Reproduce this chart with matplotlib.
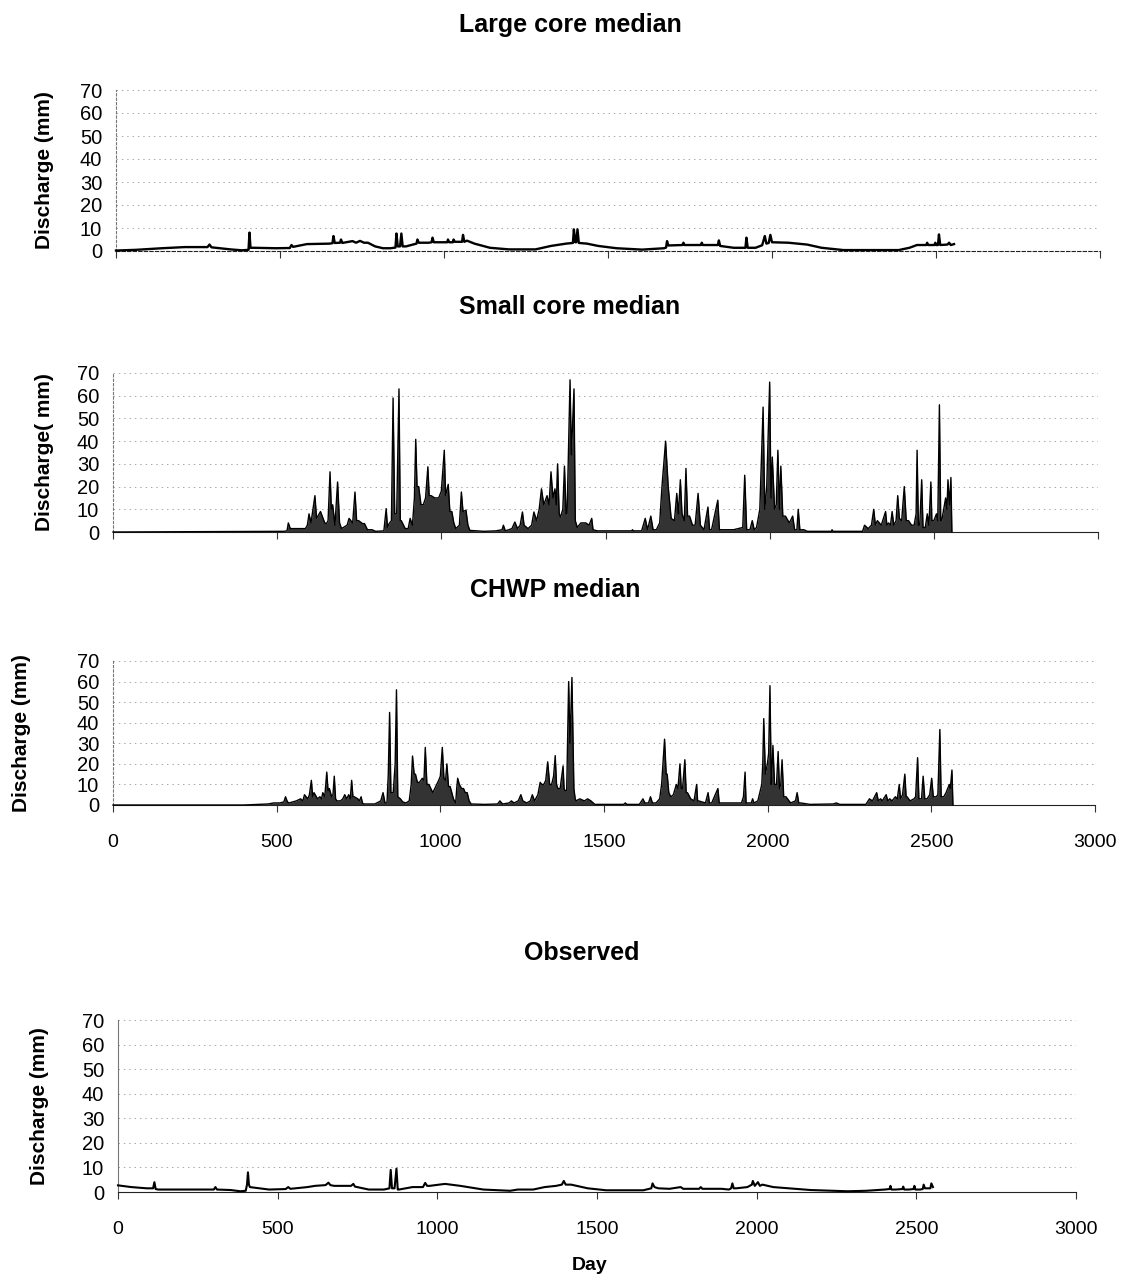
import matplotlib
matplotlib.use("Agg")
import matplotlib.pyplot as plt

plt.rcParams['font.family'] = ['Liberation Sans', 'DejaVu Sans']

W, H = 1127, 1280

titles = ["Large core median", "Small core median", "CHWP median", "Observed"]
ylabels = ["Discharge (mm)", "Discharge( mm)", "Discharge (mm)", "Discharge (mm)"]
y_ticks = [0, 10, 20, 30, 40, 50, 60, 70]
x_ticks = [0, 500, 1000, 1500, 2000, 2500, 3000]
x_label = "Day"

# ---- Large core median (day, discharge) ----
large_days = [0, 60, 140, 209, 279, 285, 291, 349, 384, 404,
              407, 410, 419, 488, 530, 535, 540, 582, 651, 660,
              663, 667, 683, 686, 690, 721, 732, 744, 756, 768,
              790, 814, 837, 852, 855, 859, 866, 870, 874, 884,
              916, 919, 923, 954, 962, 965, 969, 1010, 1012, 1016,
              1027, 1029, 1033, 1055, 1058, 1062, 1070, 1093, 1140, 1198,
              1279, 1326, 1372, 1393, 1396, 1400, 1403, 1407, 1411, 1436,
              1470, 1526, 1604, 1671, 1677, 1680, 1684, 1727, 1730, 1733,
              1783, 1786, 1789, 1835, 1838, 1842, 1883, 1919, 1922, 1926,
              1950, 1970, 1978, 1983, 1990, 1995, 2000, 2050, 2107, 2151,
              2218, 2386, 2419, 2442, 2470, 2473, 2476, 2495, 2498, 2501,
              2506, 2509, 2513, 2535, 2540, 2545, 2555]
large_q = [0.2, 0.5, 1.2, 1.7, 1.7, 2.8, 1.6, 0.7, 0.3, 0.5,
           8.0, 1.4, 1.4, 1.2, 1.3, 2.6, 1.8, 3.0, 3.2, 3.4,
           6.5, 3.5, 3.6, 5.0, 3.5, 4.3, 3.6, 4.4, 3.6, 3.6,
           2.0, 1.2, 1.2, 1.5, 7.6, 2.0, 2.0, 7.6, 2.0, 2.0,
           3.2, 5.0, 3.6, 3.6, 3.8, 5.8, 3.8, 3.8, 5.0, 3.8,
           3.8, 5.0, 4.0, 4.0, 7.0, 4.0, 4.5, 3.2, 1.4, 0.7,
           0.7, 2.2, 3.2, 3.5, 9.4, 3.8, 3.8, 9.4, 3.5, 3.2,
           2.2, 1.2, 0.6, 1.2, 1.5, 4.3, 2.4, 2.6, 3.6, 2.6,
           2.6, 3.6, 2.6, 2.6, 4.6, 2.2, 1.4, 1.4, 5.8, 1.4,
           1.4, 2.5, 6.5, 3.2, 3.5, 7.0, 3.8, 3.6, 2.8, 1.4,
           0.4, 0.4, 1.4, 2.6, 2.6, 3.6, 2.6, 2.6, 3.6, 2.6,
           2.6, 7.2, 2.6, 2.8, 3.6, 2.6, 3.0]

# ---- Small core median ----
small_days = [0, 300, 520, 530, 534, 540, 557, 586, 592, 597,
              603, 615, 620, 632, 645, 650, 655, 661, 665, 669,
              676, 684, 690, 696, 713, 719, 730, 737, 742, 748,
              760, 766, 775, 789, 800, 825, 832, 836, 841, 848,
              853, 858, 864, 871, 875, 878, 890, 899, 905, 912,
              918, 922, 926, 931, 938, 945, 952, 959, 963, 969,
              980, 992, 1000, 1009, 1013, 1021, 1026, 1032, 1038, 1044,
              1055, 1061, 1066, 1075, 1081, 1087, 1130, 1166, 1185, 1189,
              1195, 1215, 1224, 1232, 1240, 1247, 1252, 1264, 1275, 1282,
              1290, 1298, 1305, 1312, 1322, 1328, 1334, 1340, 1346, 1350,
              1354, 1359, 1363, 1370, 1375, 1380, 1383, 1392, 1396, 1404,
              1408, 1414, 1425, 1440, 1450, 1458, 1462, 1475, 1580, 1582,
              1585, 1610, 1621, 1628, 1638, 1645, 1655, 1665, 1672, 1683,
              1691, 1700, 1710, 1717, 1722, 1728, 1733, 1740, 1745, 1750,
              1756, 1765, 1773, 1782, 1789, 1800, 1812, 1817, 1823, 1842,
              1847, 1851, 1890, 1918, 1924, 1930, 1940, 1947, 1953, 1960,
              1970, 1980, 1985, 1991, 2000, 2004, 2008, 2015, 2020, 2025,
              2030, 2034, 2040, 2048, 2060, 2070, 2076, 2083, 2087, 2092,
              2104, 2115, 2188, 2190, 2193, 2283, 2289, 2300, 2310, 2317,
              2322, 2328, 2340, 2353, 2357, 2362, 2368, 2373, 2378, 2385,
              2390, 2395, 2402, 2410, 2416, 2423, 2432, 2440, 2446, 2449,
              2453, 2457, 2463, 2467, 2474, 2480, 2485, 2491, 2494, 2500,
              2508, 2512, 2517, 2521, 2524, 2530, 2536, 2540, 2543, 2548,
              2552, 2555]
small_q = [0, 0.2, 0.3, 0.5, 4, 1.5, 1.5, 1.5, 3, 8,
           4, 16, 6, 9, 4, 3.7, 5, 26.5, 10, 12,
           3, 22, 4, 1.5, 3, 6, 4, 17.6, 5, 5,
           3.7, 3.7, 1, 1, 0.3, 0.5, 10.3, 2, 3.7, 5,
           59, 8, 8, 63, 5, 5, 1.5, 1.5, 6, 3,
           15, 40.8, 20, 20, 12, 12, 15, 28.7, 16, 16,
           15, 15, 18, 36, 16, 21, 9, 9, 4, 1.5,
           3, 17.6, 9, 9.6, 3, 0.7, 0.3, 0.5, 1, 3,
           0.5, 1.5, 4.4, 1.5, 3, 8.8, 3, 1.5, 3, 8.8,
           5, 10, 19, 12, 16, 12, 26.5, 15, 19, 12,
           30, 8, 6.6, 10, 29, 8, 8, 67, 34, 63,
           5, 2, 4, 4, 3, 6, 1, 0.5, 0.5, 1,
           0.5, 0.5, 6, 1, 7, 1, 1, 4, 20, 40,
           20, 6, 5, 17, 8, 23, 8, 5, 28, 7,
           7, 3, 3, 17, 3, 1, 11, 1, 1, 14,
           1, 1, 1, 2, 25, 1, 1, 5, 1, 2,
           10, 55, 10, 20, 66, 15, 33, 10, 12, 36,
           10, 29, 7, 7, 4, 7, 1, 1, 10, 1,
           1, 0.3, 0.3, 1, 0.3, 0.3, 3, 1.5, 3, 10,
           3, 5, 3, 9, 3, 4, 3, 9, 3, 5,
           16, 6, 5, 20, 5, 5, 3, 3, 8, 36,
           3, 3, 23, 2, 2, 8, 3, 22, 5, 5,
           8, 5, 56, 5, 5, 10, 15, 10, 23, 12,
           24, 0]

# ---- CHWP median ----
chwp_days = [0, 400, 474, 491, 510, 522, 527, 533, 538, 560,
             573, 580, 585, 595, 600, 606, 610, 614, 625, 632,
             637, 641, 647, 653, 657, 661, 668, 672, 676, 680,
             684, 695, 702, 708, 714, 720, 725, 729, 733, 737,
             748, 753, 758, 762, 766, 800, 818, 825, 831, 837,
             841, 845, 849, 856, 862, 866, 870, 878, 885, 895,
             905, 911, 915, 920, 924, 930, 936, 945, 950, 954,
             959, 965, 977, 983, 989, 995, 1000, 1006, 1011, 1016,
             1020, 1025, 1030, 1040, 1047, 1050, 1053, 1058, 1065, 1071,
             1076, 1082, 1088, 1094, 1135, 1175, 1182, 1190, 1210, 1217,
             1225, 1238, 1246, 1252, 1264, 1275, 1281, 1288, 1298, 1305,
             1310, 1316, 1322, 1328, 1334, 1340, 1346, 1351, 1355, 1359,
             1366, 1375, 1378, 1381, 1386, 1392, 1396, 1402, 1408, 1412,
             1415, 1426, 1440, 1450, 1460, 1472, 1560, 1565, 1570, 1608,
             1619, 1625, 1636, 1642, 1648, 1659, 1670, 1676, 1685, 1690,
             1693, 1698, 1704, 1712, 1721, 1726, 1732, 1736, 1740, 1747,
             1751, 1755, 1765, 1775, 1783, 1786, 1789, 1810, 1818, 1822,
             1829, 1848, 1852, 1857, 1920, 1926, 1931, 1934, 1937, 1950,
             1954, 1958, 1970, 1982, 1985, 1988, 1993, 1999, 2003, 2007,
             2011, 2014, 2016, 2021, 2027, 2032, 2036, 2040, 2044, 2049,
             2056, 2070, 2085, 2090, 2095, 2101, 2129, 2200, 2210, 2220,
             2300, 2311, 2320, 2333, 2338, 2345, 2350, 2362, 2367, 2373,
             2380, 2390, 2396, 2402, 2406, 2412, 2419, 2423, 2426, 2435,
             2447, 2452, 2458, 2462, 2470, 2475, 2480, 2487, 2495, 2501,
             2506, 2515, 2520, 2526, 2530, 2538, 2545, 2555, 2558, 2563,
             2566]
chwp_q = [0, 0, 0.5, 1, 1, 1.5, 4, 1.5, 1, 2,
          3, 2, 5, 3, 5, 12, 4, 6, 3, 4,
          3, 6, 4, 16, 7, 8, 4, 5, 14, 3,
          2, 2, 3, 5, 3, 5, 3, 12, 4, 4,
          3, 2, 4, 1, 0.5, 0.5, 2, 6, 1, 1,
          15, 45, 6, 6, 20, 56, 4, 3, 1.5, 1,
          2, 10, 23.8, 15, 15, 11, 11, 13, 12, 28,
          10, 10, 6, 8, 10, 12, 14, 28, 13, 12,
          20, 9, 9, 3, 1, 8, 13, 10, 8, 8,
          6, 6, 2, 0.5, 0.3, 0.5, 2, 0.5, 1, 2,
          1, 2, 5, 2, 1, 2, 5, 2, 5, 11,
          10, 10, 12, 21, 10, 10, 14, 24, 10, 8,
          8, 19, 8, 7, 7, 60, 30, 62, 8, 3,
          2, 3, 2, 3, 2, 0.3, 0.3, 1, 0.3, 0.3,
          3, 1, 1, 4, 1, 1, 3, 10, 32, 15,
          15, 6, 4, 5, 10, 8, 20, 8, 8, 22,
          6, 6, 3, 2, 10, 2, 2, 1, 6, 1,
          1, 8, 1, 1, 1, 4, 16, 1, 1, 1,
          3, 1, 2, 10, 20, 42, 15, 20, 25, 58,
          10, 20, 29, 10, 10, 26, 8, 10, 22, 4,
          4, 1, 2, 6, 1, 1, 0.3, 0.5, 1, 0.3,
          0.3, 3, 2, 6, 2, 3, 2, 5, 2, 3,
          2, 4, 3, 10, 3, 5, 15, 4, 4, 2,
          3, 4, 23, 3, 3, 14, 3, 3, 5, 13,
          4, 4, 5, 36.7, 4, 4, 6, 10, 8, 17,
          0]

# ---- Observed ----
obs_days = [0, 42, 90, 110, 114, 118, 126, 162, 240, 300,
            305, 310, 353, 383, 400, 404, 407, 410, 413, 425,
            473, 525, 533, 540, 593, 617, 650, 659, 665, 677,
            730, 737, 742, 785, 833, 850, 854, 858, 866, 872,
            876, 880, 922, 955, 962, 968, 976, 1024, 1072, 1144,
            1228, 1252, 1300, 1336, 1372, 1390, 1396, 1402, 1419, 1471,
            1529, 1645, 1670, 1674, 1680, 1692, 1727, 1762, 1770, 1820,
            1825, 1830, 1890, 1913, 1920, 1924, 1928, 1936, 1971, 1985,
            1988, 1994, 2004, 2010, 2018, 2052, 2169, 2285, 2343, 2401,
            2416, 2419, 2422, 2436, 2456, 2459, 2462, 2477, 2491, 2494,
            2497, 2512, 2520, 2523, 2527, 2535, 2544, 2547, 2552]
obs_q = [2.7, 2.0, 1.5, 1.5, 4.0, 1.2, 1.0, 1.0, 1.0, 1.0,
         2.0, 1.0, 0.8, 0.3, 0.5, 3.0, 8.0, 3.0, 2.0, 1.8,
         1.0, 1.2, 2.0, 1.3, 2.0, 2.5, 2.8, 3.8, 2.8, 2.5,
         2.5, 3.3, 2.2, 1.0, 1.0, 1.5, 9.0, 1.5, 1.5, 9.5,
         1.0, 1.0, 2.0, 2.0, 3.7, 2.5, 2.5, 3.3, 2.5, 1.0,
         0.5, 1.0, 1.0, 2.0, 2.5, 3.0, 4.5, 3.0, 3.0, 1.5,
         0.7, 0.7, 1.5, 3.5, 2.0, 1.5, 1.3, 2.0, 1.3, 1.3,
         2.0, 1.3, 1.3, 1.0, 1.5, 3.5, 1.5, 1.5, 2.0, 3.0,
         4.5, 2.5, 4.0, 2.5, 3.0, 2.0, 0.8, 0.3, 0.5, 1.0,
         1.2, 2.5, 1.0, 1.0, 1.2, 2.2, 1.0, 1.0, 1.2, 2.5,
         1.0, 1.0, 1.2, 3.0, 1.5, 1.5, 1.5, 3.5, 2.0]

series = [(large_days, large_q), (small_days, small_q),
          (chwp_days, chwp_q), (obs_days, obs_q)]

# axes pixel boxes: left, right, y of value 0, y of value 70
boxes = [(116, 1100, 251, 90), (113, 1098, 532, 373),
         (113, 1095, 805, 661), (118, 1076, 1192, 1020)]
title_pos = [(570, 25), (570, 307), (555, 590), (582, 953)]
ylab_x = [45, 45, 22, 40]
fills = [False, True, True, False]
line_w = [1.7, 1.0, 1.0, 1.5]
show_xlabels = [False, False, True, True]

fig = plt.figure(figsize=(W / 100, H / 100), dpi=100)
fig.patch.set_facecolor("white")

for i in range(4):
    l, r, y0, y70 = boxes[i]
    ax = fig.add_axes([l / W, (H - y0) / H, (r - l) / W, (y0 - y70) / H])
    d, q = series[i]
    if fills[i]:
        ax.fill_between(d, 0, q, color="#333333", lw=0, clip_on=False, zorder=2)
    ax.plot(d, q, color="black", lw=line_w[i], clip_on=False, zorder=3)
    ax.set_xlim(0, 3000)
    ax.set_ylim(0, 70)
    ax.set_yticks(y_ticks)
    ax.set_xticks(x_ticks)
    ax.yaxis.grid(True, linestyle=(0, (1.5, 4)), color="#a8a8a8", lw=0.7)
    ax.set_axisbelow(True)
    for s in ["top", "right"]:
        ax.spines[s].set_visible(False)
    ax.spines["left"].set_color("#777777")
    ax.spines["left"].set_linewidth(0.8)
    if i < 3:
        ax.spines["left"].set_linestyle((0, (2, 2)))
    ax.spines["bottom"].set_color("#222222")
    ax.spines["bottom"].set_linewidth(0.8)
    if i == 0:
        ax.spines["bottom"].set_linestyle((0, (3, 2)))
    ax.tick_params(axis="y", length=0, pad=10, labelsize=14.5)
    ax.tick_params(axis="x", direction="out", length=5, width=0.8,
                   color="#333333", pad=16, labelsize=14,
                   labelbottom=show_xlabels[i])
    tx, ty = title_pos[i]
    fig.text(tx / W, (H - ty) / H, titles[i], ha="center", va="center",
             fontsize=18, fontweight="bold")
    fig.text(ylab_x[i] / W, (H - (y0 + y70) / 2) / H, ylabels[i],
             rotation=90, ha="center", va="center", fontsize=15,
             fontweight="bold")

fig.text(590 / W, (H - 1265) / H, x_label, ha="center", va="center",
         fontsize=14, fontweight="bold")

fig.savefig("out.png", dpi=100, facecolor="white")
